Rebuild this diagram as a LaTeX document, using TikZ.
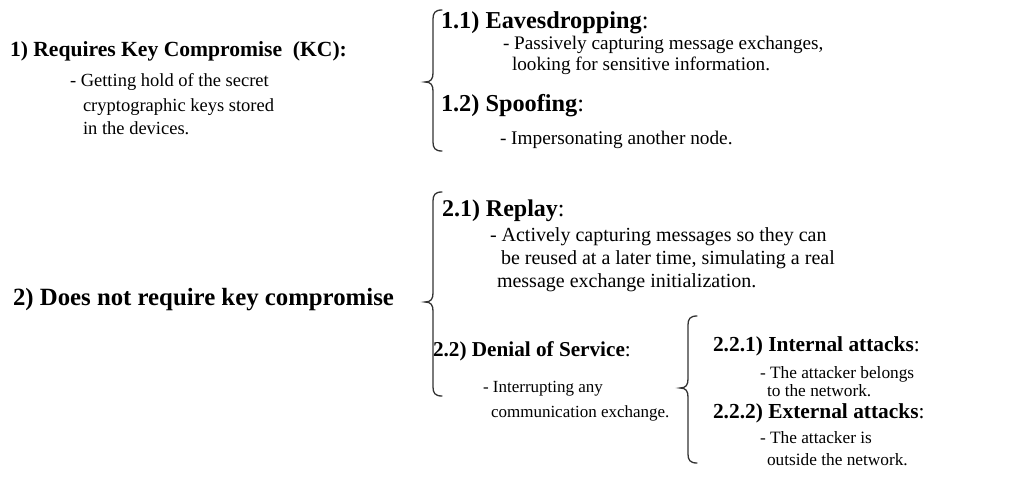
\documentclass[tikz,border=0pt]{standalone}
\usepackage{fontspec}
\setmainfont{Liberation Serif}

% curly brace: vertical x, top y, tip y, bottom y (y grows downward)
\newcommand\curlybrace[4]{%
  \draw[brace] ({#1+9},#2) .. controls ({#1+2},#2) and (#1,{#2+3}) .. (#1,{#2+9})
    -- (#1,{#3-9}) .. controls (#1,{#3-3}) and ({#1-2},#3) .. ({#1-8},#3)
    .. controls ({#1-2},#3) and (#1,{#3+3}) .. (#1,{#3+9})
    -- (#1,{#4-9}) .. controls (#1,{#4-3}) and ({#1+2},#4) .. ({#1+9},#4);}

\begin{document}
\begin{tikzpicture}[x=1pt,y=-1pt,
  every node/.style={inner sep=0pt, outer sep=0pt, anchor=base west},
  head/.style={font=\fontsize{#1}{#1}\selectfont\bfseries},
  sub/.style={font=\fontsize{#1}{#1}\selectfont},
  desc/.style={font=\fontsize{#1}{#1}\selectfont},
  brace/.style={draw=black!80, line width=1.3pt, line cap=round}]

\useasboundingbox[fill=white] (0,0) rectangle (1021,495);

% ---- 1) attacks that need the keys
\node[head=21.6] (h1) at (10,57) {1) Requires Key Compromise\ \ (KC):};
\node[desc=18.5] (d1a) at (70,87) {- Getting hold of the secret};
\node[desc=18.5] (d1b) at (83,111) {cryptographic keys stored};
\node[desc=18.5] (d1c) at (83,135) {in the devices.};

\curlybrace{433}{10}{82}{151}

\node[sub=24.3] (s11) at (441,29) {\textbf{1.1) Eavesdropping}:};
\node[desc=19.2] (d11a) at (503,50) {- Passively capturing message exchanges,};
\node[desc=19.2] (d11b) at (512,71) {looking for sensitive information.};

\node[sub=24.3] (s12) at (441,111) {\textbf{1.2) Spoofing}:};
\node[desc=19.3] (d12a) at (500,144) {- Impersonating another node.};

% ---- 2) attacks without the keys
\node[head=24.8] (h2) at (13,305) {2) Does not require key compromise};

\curlybrace{433}{192}{302}{396}

\node[sub=24] (s21) at (442,216) {\textbf{2.1) Replay}:};
\node[desc=20] (d21a) at (490,241) {- Actively capturing messages so they can};
\node[desc=20] (d21b) at (501,264) {be reused at a later time, simulating a real};
\node[desc=20] (d21c) at (497,287) {message exchange initialization.};

\node[sub=21.2] (s22) at (433,356) {\textbf{2.2) Denial of Service}:};
\node[desc=17] (d22a) at (483,392) {- Interrupting any};
\node[desc=17] (d22b) at (491,417) {communication exchange.};

\curlybrace{688}{316}{388}{463}

\node[sub=21.4] (s221) at (713,351) {\textbf{2.2.1) Internal attacks}:};
\node[desc=17.3] (d221a) at (760,378) {- The attacker belongs};
\node[desc=17.3] (d221b) at (767,396) {to the network.};

\node[sub=21.4] (s222) at (713,418) {\textbf{2.2.2) External attacks}:};
\node[desc=17.3] (d222a) at (760,443) {- The attacker is};
\node[desc=17.3] (d222b) at (767,465) {outside the network.};
\end{tikzpicture}
\end{document}
